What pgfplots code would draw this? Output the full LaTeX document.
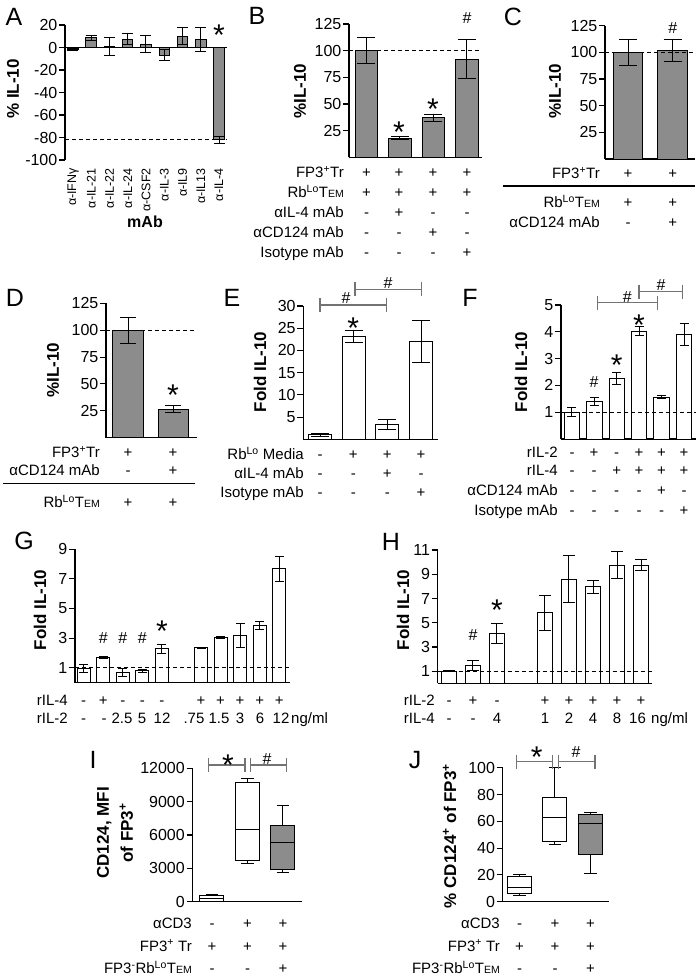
\documentclass[border=0pt]{standalone}
\usepackage{fontspec}
\setmainfont{Liberation Sans}
\usepackage{pgfplots}
\pgfplotsset{compat=1.18}
\usepgfplotslibrary{statistics}
\definecolor{bargray}{RGB}{140,140,140}
\definecolor{brgray}{RGB}{115,115,115}
\newcommand{\tk}{\fontsize{16}{18}\selectfont}
\newcommand{\rw}{\fontsize{15}{18}\selectfont}
\newcommand{\lbf}{\fontsize{17}{24}\selectfont\bfseries}
\newcommand{\plf}{\fontsize{25}{28}\selectfont}
\newcommand{\EM}{{\fontsize{10.5}{10}\selectfont EM}}
\newcommand{\Lo}{\textsuperscript{Lo}}
\newcommand{\rlab}[3]{\node[anchor=base east,inner sep=0pt,font=\rw,yshift=-5.4pt] at (#1pt,-#2pt) {#3};}
\newcommand{\signs}[2]{\foreach \xx/\vv in {#2}{\node[anchor=base,inner sep=0pt,font=\rw,yshift=-5.4pt] at (\xx pt,-#1pt) {\vv};}}
\newcommand{\stt}[2]{\node[anchor=base,inner sep=0pt,font=\fontsize{30}{30}\selectfont,yshift=-17.5pt] at (#1pt,-#2pt) {*};}
\newcommand{\hsh}[2]{\node[anchor=base,inner sep=0pt,font=\fontsize{16}{16}\selectfont,yshift=-5.6pt] at (#1pt,-#2pt) {\#};}
\newcommand{\bracket}[3]{\draw[brgray,line width=1.1pt] (#1pt,-#3pt) -- (#2pt,-#3pt) (#1pt,-#3pt+7pt) -- (#1pt,-#3pt-7pt) (#2pt,-#3pt+7pt) -- (#2pt,-#3pt-7pt);}
\newcommand{\ylab}[3]{\node[rotate=90,font=\lbf,inner sep=0pt,align=center] at (#1pt,-#2pt) {#3};}
\newcommand{\plet}[3]{\node[font=\plf,inner sep=0pt] at (#1pt,-#2pt) {#3};}
\pgfplotsset{
 pan/.style={scale only axis, clip=false, anchor=south west,
   axis x line*=bottom, axis y line*=left,
   axis line style={line width=1.1pt, black},
   xtick=\empty, tick align=outside, major tick length=6pt,
   every tick/.style={black, line width=1.1pt},
   tick label style={font=\tk},
   yticklabel style={inner sep=1.5pt},
   scaled y ticks=false,
   boxplot/draw direction=y,
   /pgf/number format/assume math mode=true,
   /pgf/number format/1000 sep={},
 },
 bb/.style={ybar, bar shift=0pt, draw=black, line width=1pt,
   error bars/y dir=both, error bars/y explicit,
   error bars/error bar style={line width=1pt, solid, black},
   error bars/error mark options={line width=1pt, black, mark size=#1, rotate=90}},
 dl/.style={black, line width=0.9pt, dash pattern=on 4pt off 3pt},
 bx/.style={black, line width=1pt},
}
\begin{document}
\begin{tikzpicture}
\useasboundingbox (0,0) rectangle (700pt,-979pt);
% ---------------- A
\begin{axis}[pan, at={(65pt,-160pt)}, width=162pt, height=135pt,
  xmin=-0.438, xmax=8.438, ymin=-100, ymax=20, ytick={-100,-80,...,20},
  xtick={0,...,8}, xticklabels={α-IFNγ,α-IL-21,α-IL-22,α-IL-24,α-CSF2,α-IL-3,α-IL9,α-IL13,α-IL-4},
  x axis line style={draw=none}, xtick style={draw=none},
  x tick label style={rotate=90, anchor=east, font=\fontsize{12.5}{13}\selectfont, inner sep=2pt}]
\addplot[bb=5.5pt, fill=bargray, bar width=0.575] table[x=x,y=y,y error=e]{
x y e
0 -2 1
1 8.5 2
2 0.5 8
3 7.5 4.7
4 3 7.5
5 -7 5
6 10 7.5
7 7 10.5
8 -82 3
};
\addplot[black, line width=1.1pt] coordinates {(-0.438,0) (8.438,0)};
\addplot[dl] coordinates {(-0.438,-82) (8.438,-82)};
\end{axis}
\plet{14}{16.5}{A}
\ylab{13}{89}{\% IL-10}
\node[font=\fontsize{16}{18}\selectfont\bfseries] at (145pt,-222pt) {mAb};
\stt{219}{28}
% ---------------- B
\begin{axis}[pan, at={(349pt,-157.3pt)}, width=133pt, height=133.3pt,
  xmin=-0.522, xmax=3.448, ymin=0, ymax=125, ytick={25,50,...,125}]
\addplot[bb=9pt, fill=bargray, bar width=0.67] table[x=x,y=y,y error=e]{
x y e
0 100 12
1 18 1.5
2 37 3
3 92 18
};
\addplot[dl] coordinates {(-0.522,100) (3.448,100)};
\end{axis}
\plet{257}{16}{B}
\ylab{300}{91}{\%IL-10}
\stt{399}{125}\stt{433}{101.7}\hsh{467}{18}
\rlab{344}{172}{FP3\textsuperscript{+}Tr}
\signs{172}{366.5/+,399/+,433/+,467/+}
\rlab{344}{192}{Rb\Lo T\EM}
\signs{192}{366.5/+,399/+,433/+,467/+}
\rlab{344}{212}{αIL-4 mAb}
\signs{212}{366.5/-,399/+,433/-,467/-}
\rlab{344}{232}{αCD124 mAb}
\signs{232}{366.5/-,399/-,433/+,467/-}
\rlab{344}{252}{Isotype mAb}
\signs{252}{366.5/-,399/-,433/-,467/+}
% ---------------- C
\begin{axis}[pan, at={(605pt,-159pt)}, width=90pt, height=133.3pt,
  xmin=-0.515, xmax=1.5, ymin=0, ymax=125, ytick={25,50,...,125}]
\addplot[bb=9pt, fill=bargray, bar width=0.66] table[x=x,y=y,y error=e]{
x y e
0 100 12
1 102 10.5
};
\addplot[dl] coordinates {(-0.515,100) (1.5,100)};
\end{axis}
\plet{513}{16.5}{C}
\ylab{555}{91}{\%IL-10}
\hsh{672.7}{28}
\rlab{600}{173}{FP3\textsuperscript{+}Tr}
\signs{173}{628/+,672.7/+}
\draw[black,line width=1.1pt] (503pt,-186pt) -- (695pt,-186pt);
\rlab{600}{202}{Rb\Lo T\EM}
\signs{202}{628/+,672.7/+}
\rlab{600}{222}{αCD124 mAb}
\signs{222}{628/-,672.7/+}
% ---------------- D
\begin{axis}[pan, at={(106pt,-437.7pt)}, width=91pt, height=134.4pt,
  xmin=-0.489, xmax=1.533, ymin=0, ymax=125, ytick={25,50,...,125}]
\addplot[bb=8pt, fill=bargray, bar width=0.667] table[x=x,y=y,y error=e]{
x y e
0 100 12
1 26.5 3.5
};
\addplot[dl] coordinates {(-0.489,100) (1.533,100)};
\end{axis}
\plet{15}{298}{D}
\ylab{53}{370}{\%IL-10}
\stt{173}{388}
\rlab{100}{452}{FP3\textsuperscript{+}Tr}
\signs{452}{128/+,173/+}
\rlab{100}{470}{αCD124 mAb}
\signs{470}{128/-,173/+}
\draw[black,line width=1.1pt] (3pt,-483.3pt) -- (195pt,-483.3pt);
\rlab{100}{502}{Rb\Lo T\EM}
\signs{502}{128/+,173/+}
% ---------------- E
\begin{axis}[pan, at={(303.3pt,-439.3pt)}, width=135pt, height=133.3pt,
  xmin=-0.496, xmax=3.51, ymin=0, ymax=30, ytick={5,10,...,30}]
\addplot[bb=9pt, fill=white, bar width=0.68] table[x=x,y=y,y error=e]{
x y e
0 1.0 0.3
1 23.1 1.3
2 3.3 1.1
3 22 4.7
};
\end{axis}
\plet{232}{298}{E}
\ylab{260}{372}{Fold IL-10}
\stt{353.3}{320.7}
\bracket{320}{386.7}{305}\hsh{346}{298.3}
\bracket{355}{421.7}{289.3}\hsh{388}{283.3}
\rlab{304}{454.3}{Rb\Lo\ Media}
\signs{454.3}{320/-,353.3/+,387.3/+,421/+}
\rlab{304}{473.3}{αIL-4 mAb}
\signs{473.3}{320/-,353.3/-,387.3/+,421/-}
\rlab{304}{492.3}{Isotype mAb}
\signs{492.3}{320/-,353.3/-,387.3/-,421/+}
% ---------------- F
\begin{axis}[pan, at={(561pt,-439pt)}, width=135pt, height=134pt,
  xmin=-0.49, xmax=5.536, ymin=0, ymax=5, ytick={1,...,5}]
\addplot[bb=4.5pt, fill=white, bar width=0.68] table[x=x,y=y,y error=e]{
x y e
0 1.0 0.16
1 1.4 0.16
2 2.27 0.23
3 4.03 0.18
4 1.56 0.06
5 3.9 0.42
};
\addplot[dl] coordinates {(-0.49,1) (5.536,1)};
\end{axis}
\plet{470}{298}{F}
\ylab{521}{372}{Fold IL-10}
\hsh{594}{382.3}\stt{616.7}{358.3}\stt{639}{318.3}
\bracket{597.3}{657.7}{302.7}\hsh{627.3}{296.7}
\bracket{639}{682.3}{291.7}\hsh{661}{285}
\rlab{558}{452.3}{rIL-2}
\signs{452.3}{572/-,594/+,616.7/-,639/+,661.5/+,684/+}
\rlab{558}{470}{rIL-4}
\signs{470}{572/-,594/-,616.7/+,639/+,661.5/+,684/+}
\rlab{558}{490}{αCD124 mAb}
\signs{490}{572/-,594/-,616.7/-,639/-,661.5/+,684/-}
\rlab{558}{510}{Isotype mAb}
\signs{510}{572/-,594/-,616.7/-,639/-,661.5/-,684/+}
% ---------------- G
\begin{axis}[pan, at={(75pt,-682.5pt)}, width=215pt, height=133.2pt,
  xmin=-0.445, xmax=10.55, ymin=0, ymax=9, ytick={1,3,...,9}]
\addplot[bb=4.5pt, fill=white, bar width=0.665] table[x=x,y=y,y error=e]{
x y e
0 0.95 0.28
1 1.68 0.07
2 0.68 0.27
3 0.8 0.1
4 2.27 0.3
6 2.35 0.03
7 3.03 0.07
8 3.17 0.8
9 3.86 0.25
10 7.67 0.82
};
\addplot[dl] coordinates {(-0.445,1) (10.55,1)};
\end{axis}
\plet{24}{541}{G}
\ylab{40}{610}{Fold IL-10}
\hsh{103.25}{638.3}\hsh{122.8}{638.3}\hsh{142.35}{638.3}\stt{161.9}{624}
\rlab{68}{700}{rIL-4}
\signs{700}{83.7/-,103.25/+,122.8/-,142.35/-,161.9/-,201/+,220.55/+,240.1/+,259.65/+,279.2/+}
\rlab{68}{718}{rIL-2}
\signs{718}{83.7/-,104/-,122/2.5,142/5,162/12,194/.75,219/1.5,240/3,260/6,281/12}
\node[anchor=base west,inner sep=0pt,font=\rw,yshift=-5.4pt] at (291pt,-718pt) {ng/ml};
% ---------------- H
\begin{axis}[pan, at={(437.7pt,-683.4pt)}, width=214pt, height=133.4pt,
  xmin=-0.47, xmax=8.446, ymin=0, ymax=11, ytick={1,3,...,11}]
\addplot[bb=6pt, fill=white, bar width=0.646] table[x=x,y=y,y error=e]{
x y e
0 1.0 0.03
1 1.46 0.42
2 4.1 0.8
4 5.83 1.45
5 8.6 1.95
6 7.97 0.55
7 9.76 1.1
8 9.76 0.45
};
\addplot[dl] coordinates {(-0.47,1) (8.446,1)};
\end{axis}
\plet{391}{542}{H}
\ylab{403}{610}{Fold IL-10}
\hsh{473}{635}\stt{497}{603.3}
\rlab{435}{700}{rIL-2}
\signs{700}{449/-,473/+,497/-,545/+,569/+,593/+,617/+,641/+}
\rlab{435}{718}{rIL-4}
\signs{718}{449/-,473/-,497/4,545/1,569/2,593/4,617/8,637.5/16}
\node[anchor=base west,inner sep=0pt,font=\rw,yshift=-5.4pt] at (651pt,-718pt) {ng/ml};
% ---------------- I (values in thousands of MFI)
\begin{axis}[pan, at={(192.5pt,-901.7pt)}, width=109.2pt, height=133.4pt,
  xmin=-0.549, xmax=2.527, ymin=0, ymax=12, ytick={0,3,...,12},
  yticklabels={0,3000,6000,9000,12000}]
\addplot[bx, fill=white, boxplot prepared={draw position=0, lower whisker=0.02, lower quartile=0.03, median=0.3, upper quartile=0.54, upper whisker=0.66, box extend=0.676, whisker extend=0.35}] coordinates {};
\addplot[bx, fill=white, boxplot prepared={draw position=1, lower whisker=3.45, lower quartile=3.69, median=6.48, upper quartile=10.74, upper whisker=11.1, box extend=0.676, whisker extend=0.35}] coordinates {};
\addplot[bx, fill=bargray, boxplot prepared={draw position=2, lower whisker=2.61, lower quartile=2.94, median=5.31, upper quartile=6.87, upper whisker=8.64, box extend=0.676, whisker extend=0.35}] coordinates {};
\end{axis}
\plet{93}{760}{I}
\ylab{115}{833}{CD124, MFI\\of FP3\textsuperscript{+}}
\bracket{208.3}{245}{765}\stt{228}{758}
\bracket{250.7}{286.7}{765}\hsh{267}{759}
\rlab{192}{923.3}{αCD3}
\signs{923.3}{212/-,247.5/+,283/+}
\rlab{192}{945.7}{FP3\textsuperscript{+} Tr}
\signs{945.7}{212/+,247.5/+,283/+}
\rlab{192}{968.3}{FP3\textsuperscript{-}Rb\Lo T\EM}
\signs{968.3}{212/-,247.5/-,283/+}
% ---------------- J
\begin{axis}[pan, at={(502.7pt,-901.7pt)}, width=106.6pt, height=134pt,
  xmin=-0.473, xmax=2.53, ymin=0, ymax=100, ytick={0,20,...,100}]
\addplot[bx, fill=white, boxplot prepared={draw position=0, lower whisker=5, lower quartile=6.2, median=10.7, upper quartile=18.7, upper whisker=20, box extend=0.676, whisker extend=0.35}] coordinates {};
\addplot[bx, fill=white, boxplot prepared={draw position=1, lower whisker=43, lower quartile=45, median=63, upper quartile=77.9, upper whisker=100, box extend=0.676, whisker extend=0.35}] coordinates {};
\addplot[bx, fill=bargray, boxplot prepared={draw position=2, lower whisker=21.2, lower quartile=35.4, median=58.5, upper quartile=65, upper whisker=66.4, box extend=0.676, whisker extend=0.35}] coordinates {};
\end{axis}
\plet{415}{760}{J}
\ylab{449.5}{836}{\% CD124\textsuperscript{+} of FP3\textsuperscript{+}}
\bracket{516.7}{552.7}{761.7}\stt{536.7}{750}
\bracket{558.3}{595}{761.7}\hsh{576}{751.7}
\rlab{500}{923.3}{αCD3}
\signs{923.3}{519.5/-,555/+,590.5/+}
\rlab{500}{945.7}{FP3\textsuperscript{+} Tr}
\signs{945.7}{519.5/+,555/+,590.5/+}
\rlab{500}{968.3}{FP3\textsuperscript{-}Rb\Lo T\EM}
\signs{968.3}{519.5/-,555/-,590.5/+}
\end{tikzpicture}
\end{document}
